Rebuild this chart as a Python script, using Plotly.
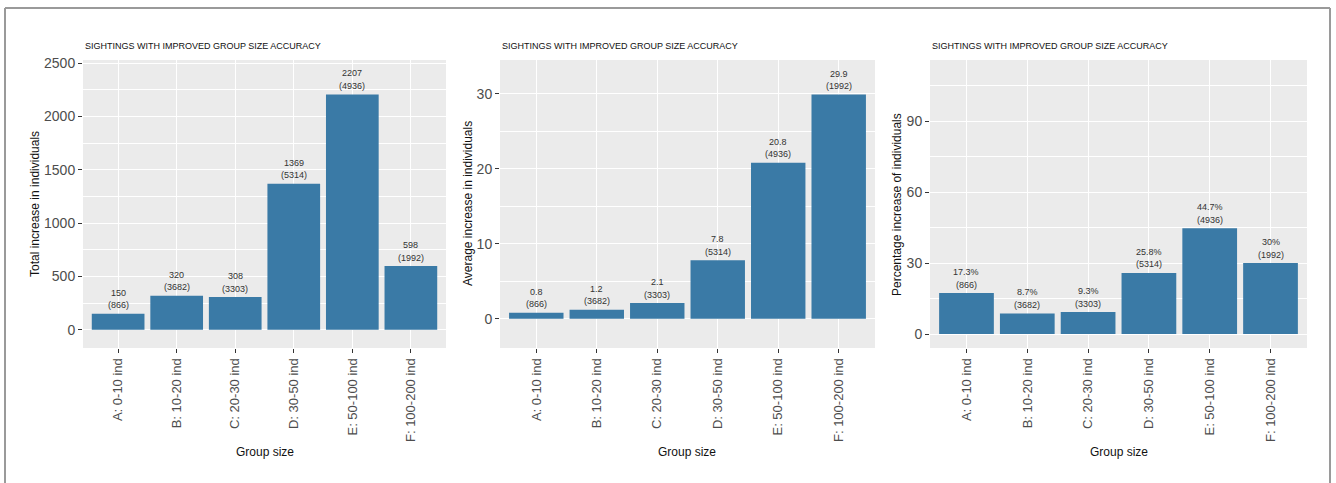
import plotly.graph_objects as go

W, H = 1336, 483

categories = ["A: 0-10 ind", "B: 10-20 ind", "C: 20-30 ind", "D: 30-50 ind", "E: 50-100 ind", "F: 100-200 ind"]
sample_sizes = [866, 3682, 3303, 5314, 4936, 1992]
total_increase = [150, 320, 308, 1369, 2207, 598]
average_increase = [0.8, 1.2, 2.1, 7.8, 20.8, 29.9]
percent_increase = [17.3, 8.7, 9.3, 25.8, 44.7, 30]
total_labels = ["150", "320", "308", "1369", "2207", "598"]
average_labels = ["0.8", "1.2", "2.1", "7.8", "20.8", "29.9"]
percent_labels = ["17.3%", "8.7%", "9.3%", "25.8%", "44.7%", "30%"]

title_text = "SIGHTINGS WITH IMPROVED GROUP SIZE ACCURACY"
x_title = "Group size"
y_titles = ["Total increase in individuals", "Average increase in individuals", "Percentage increase of individuals"]

BAR = "#3A7AA6"
PANEL = "#EBEBEB"
FONT = "Liberation Sans, Arial, sans-serif"

# pixel layout of the three panels (left, right) and shared top/bottom
panels_px = [(83, 446), (500, 875), (930, 1307)]
top_px, bot_px = 60, 348
yranges = [[-170, 2530], [-3.9, 34.5], [-5.9, 115.8]]
ydticks = [500, 10, 30]
ytitle_x = [35, 468, 897]

def px_x(x):
    return x / W

def px_y(y):
    return 1 - y / H

fig = go.Figure()
annotations = []
series = [(total_increase, total_labels), (average_increase, average_labels), (percent_increase, percent_labels)]

for i, ((vals, labs), (l, r)) in enumerate(zip(series, panels_px)):
    sfx = "" if i == 0 else str(i + 1)
    xa, ya = "x" + sfx, "y" + sfx
    fig.add_trace(go.Bar(x=categories, y=vals, width=0.9, marker=dict(color=BAR, line=dict(width=0)),
                         xaxis=xa, yaxis=ya, showlegend=False, hoverinfo="skip"))
    for c, v, lab, n in zip(categories, vals, labs, sample_sizes):
        annotations.append(dict(x=c, y=v, xref=xa, yref=ya, text=lab, showarrow=False,
                                yanchor="middle", yshift=21, font=dict(size=9, color="#333333", family=FONT)))
        annotations.append(dict(x=c, y=v, xref=xa, yref=ya, text="(" + str(n) + ")", showarrow=False,
                                yanchor="middle", yshift=8.5, font=dict(size=9, color="#333333", family=FONT)))
    xdom = [px_x(l), px_x(r)]
    ydom = [px_y(bot_px), px_y(top_px)]
    fig.layout["xaxis" + sfx] = dict(
        domain=xdom, anchor=ya, type="category", range=[-0.6, 5.6],
        showgrid=True, gridcolor="white", gridwidth=1.1, zeroline=False, showline=False,
        ticks="outside", ticklen=4, tickwidth=1, tickcolor="#333333", tickangle=-90,
        tickfont=dict(size=13, color="#4D4D4D", family=FONT), automargin=False, fixedrange=True)
    fig.layout["yaxis" + sfx] = dict(
        domain=ydom, anchor=xa, range=yranges[i], dtick=ydticks[i], tick0=0,
        showgrid=True, gridcolor="white", gridwidth=1.1, zeroline=False, showline=False,
        ticks="outside", ticklen=4, tickwidth=1, tickcolor="#333333",
        tickfont=dict(size=14, color="#4D4D4D", family=FONT), automargin=False, fixedrange=True,
        minor=dict(dtick=ydticks[i] / 2, tick0=0, showgrid=True, gridcolor="white", gridwidth=0.5, ticks=""))
    # panel title
    annotations.append(dict(x=px_x(l), y=px_y(46), xref="paper", yref="paper", text=title_text,
                            showarrow=False, xanchor="left", yanchor="middle",
                            font=dict(size=9, color="#111111", family=FONT)))
    # x axis title
    annotations.append(dict(x=px_x((l + r) / 2), y=px_y(452), xref="paper", yref="paper", text=x_title,
                            showarrow=False, xanchor="center", yanchor="middle",
                            font=dict(size=12, color="#111111", family=FONT)))
    # y axis title
    annotations.append(dict(x=px_x(ytitle_x[i]), y=px_y((top_px + bot_px) / 2), xref="paper", yref="paper",
                            text=y_titles[i], textangle=-90, showarrow=False, xanchor="center", yanchor="middle",
                            font=dict(size=12, color="#111111", family=FONT)))
    # panel background
    fig.add_shape(type="rect", xref="paper", yref="paper", x0=xdom[0], x1=xdom[1], y0=ydom[0], y1=ydom[1],
                  fillcolor=PANEL, line=dict(width=0), layer="below")

# outer frame
frame = dict(color="#9A9A9A", width=2)
fig.add_shape(type="line", xref="paper", yref="paper", x0=px_x(5), x1=px_x(1330), y0=px_y(8), y1=px_y(8), line=frame)
fig.add_shape(type="line", xref="paper", yref="paper", x0=px_x(5), x1=px_x(5), y0=px_y(8), y1=0, line=frame)
fig.add_shape(type="line", xref="paper", yref="paper", x0=px_x(1330), x1=px_x(1330), y0=px_y(8), y1=0, line=frame)

fig.update_layout(width=W, height=H, margin=dict(l=0, r=0, t=0, b=0),
                  paper_bgcolor="white", plot_bgcolor=PANEL, annotations=annotations,
                  font=dict(family=FONT), bargap=0.1)

fig.write_html("out.html", config={"displayModeBar": False},
               post_script="document.body.style.margin='0';document.body.style.overflow='hidden';")
